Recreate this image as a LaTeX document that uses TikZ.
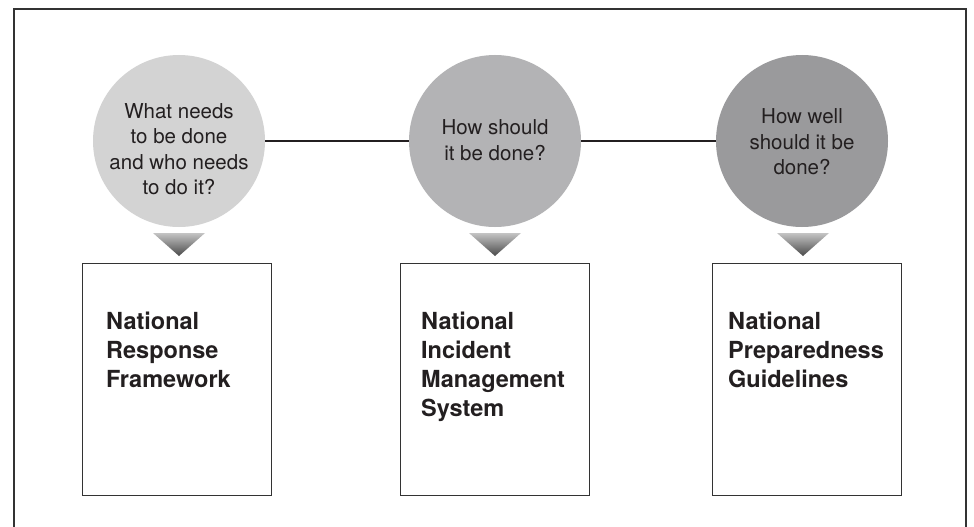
\documentclass[tikz,border=0pt]{standalone}
\usepackage{fontspec}
\newfontfamily\hv{TeX Gyre Heros}
\usetikzlibrary{calc}
\definecolor{ink}{HTML}{231F20}
\definecolor{frame}{HTML}{333333}
\definecolor{cA}{HTML}{D3D3D3}
\definecolor{cB}{HTML}{B3B3B5}
\definecolor{cC}{HTML}{9A9A9C}
\definecolor{triTop}{HTML}{C4C4C4}
\definecolor{triBot}{HTML}{4A4A4A}
\tikzset{
  bubble/.style={circle, draw=none, minimum size=172pt, inner sep=0pt},
  qtext/.style={font=\hv\fontsize{20.5}{25.5}\selectfont, text=ink, align=center, inner sep=0pt},
  docbox/.style={draw=frame, line width=1.1pt, fill=white, minimum width=189pt, minimum height=232pt, inner sep=0pt, anchor=north west},
  doctext/.style={font=\hv\bfseries\fontsize{23.5}{29}\selectfont, text=ink, align=left, inner sep=0pt, anchor=north west},
  link/.style={draw=ink, line width=1.8pt},
  pointer/.style={top color=triTop, bottom color=triBot, draw=none}
}
\begin{document}
\begin{tikzpicture}[x=1pt,y=-1pt]
\useasboundingbox (0,0) rectangle (974,527);
\fill[white] (0,0) rectangle (974,527);
% outer frame (open at bottom)
\draw[frame, line width=1.4pt] (14,527) -- (14,9) -- (966,9) -- (966,527);
% circles
\node[bubble, fill=cA] (c1) at (179,141) {};
\node[bubble, fill=cB] (c2) at (495,141) {};
\node[bubble, fill=cC] (c3) at (802,141) {};
\begin{scope}[on background layer/.style={}]
\end{scope}
% connectors
\draw[link] (c1.east) -- (c2.west);
\draw[link] (c2.east) -- (c3.west);
% questions
\node[qtext] (q1) at (179,149) {What needs\\to be done\\and who needs\\to do it?};
\node[qtext] (q2) at (495,140) {How should\\it be done?};
\node[qtext] (q3) at (802,142) {How well\\should it be\\done?};
% pointers
\shade[pointer] (153,233) -- (205,233) -- (179,256) -- cycle;
\shade[pointer] (469,233) -- (521,233) -- (495,256) -- cycle;
\shade[pointer] (777,233) -- (829,233) -- (803,256) -- cycle;
% boxes
\node[docbox] (b1) at (82,263) {};
\node[docbox] (b2) at (400,263) {};
\node[docbox] (b3) at (712,263) {};
\node[doctext] (t1) at (106,311.5) {National\\Response\\Framework};
\node[doctext] (t2) at (421,311.5) {National\\Incident\\Management\\System};
\node[doctext] (t3) at (728,311.5) {National\\Preparedness\\Guidelines};
\end{tikzpicture}
\end{document}
